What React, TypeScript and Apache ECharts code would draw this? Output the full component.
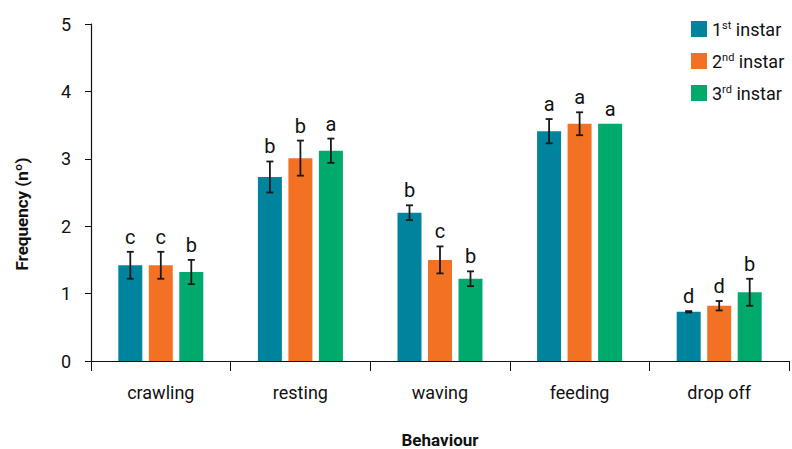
import React, { useEffect, useRef } from "react";
import * as echarts from "echarts";

const categories = ["crawling", "resting", "waving", "feeding", "drop off"];
const seriesNames = ["1st instar", "2nd instar", "3rd instar"];
const first = [1.42, 2.73, 2.2, 3.41, 0.73];
const second = [1.42, 3.01, 1.5, 3.52, 0.82];
const third = [1.32, 3.12, 1.22, 3.52, 1.02];
const err1 = [0.2, 0.23, 0.11, 0.18, 0.01];
const err2 = [0.2, 0.26, 0.2, 0.17, 0.07];
const err3 = [0.18, 0.18, 0.11, 0, 0.2];
const letters1 = ["c", "b", "b", "a", "d"];
const letters2 = ["c", "b", "c", "a", "d"];
const letters3 = ["b", "a", "b", "a", "b"];
const yTicks = [0, 1, 2, 3, 4, 5];

const colors = ["#00839C", "#F37123", "#00AA6C"];
const FONT = "Roboto";
const BAR_W = 24;
const GAP = 6.5;

export default function App() {
  const ref = useRef<HTMLDivElement>(null);
  useEffect(() => {
    if (!ref.current) return;
    const chart = echarts.init(ref.current, null, { renderer: "svg" });
    const values = [first, second, third];
    const errs = [err1, err2, err3];
    const letters = [letters1, letters2, letters3];

    const barSeries = values.map((vals, s) => ({
      name: seriesNames[s],
      type: "bar",
      data: vals,
      barWidth: BAR_W,
      barGap: (GAP / BAR_W) * 100 + "%",
      itemStyle: { color: colors[s] },
    }));

    const errSeries = values.map((vals, s) => ({
      type: "custom",
      name: "err" + s,
      z: 10,
      clip: false,
      data: categories.map((_, i) => [i, vals[i], errs[s][i]]),
      encode: { x: 0, y: 1 },
      renderItem: (params: any, api: any) => {
        const i = params.dataIndex;
        const v = api.value(1);
        const e = api.value(2);
        const off = (s - 1) * (BAR_W + GAP);
        const top = api.coord([i, v + e]);
        const bot = api.coord([i, v - e]);
        const x = top[0] + off;
        const children: any[] = [];
        if (e > 0) {
          const ls = { stroke: "#1a1a1a", lineWidth: 1.8 };
          children.push(
            { type: "line", shape: { x1: x, y1: top[1], x2: x, y2: bot[1] }, style: ls },
            { type: "line", shape: { x1: x - 3.5, y1: top[1], x2: x + 3.5, y2: top[1] }, style: ls },
            { type: "line", shape: { x1: x - 3.5, y1: bot[1], x2: x + 3.5, y2: bot[1] }, style: ls }
          );
        }
        children.push({
          type: "text",
          x: x,
          y: top[1] - 5,
          style: {
            text: letters[s][i],
            align: "center",
            verticalAlign: "bottom",
            textAlign: "center",
            textVerticalAlign: "bottom",
            fontSize: 20,
            fontFamily: FONT,
            fill: "#111",
          },
        });
        return { type: "group", children };
      },
    }));

    const option: any = {
      animation: false,
      grid: {
        left: 91,
        right: 3,
        top: 24,
        bottom: 88,
        containLabel: false,
        outerBoundsMode: "none",
      },
      legend: {
        data: seriesNames,
        orient: "vertical",
        left: 691,
        top: 20,
        padding: 0,
        itemWidth: 16,
        itemHeight: 16,
        itemGap: 14,
        icon: "rect",
        formatter: (name: string) => {
          const n = name.charAt(0);
          const sup = name.substring(1, 3);
          return n + "{s|" + sup + "} instar";
        },
        textStyle: {
          fontSize: 18,
          fontFamily: FONT,
          color: "#111",
          lineHeight: 18,
          rich: {
            s: { fontSize: 11, lineHeight: 11, verticalAlign: "top", fontFamily: FONT, color: "#111" },
          },
        },
      },
      xAxis: {
        type: "category",
        data: categories,
        name: "Behaviour",
        nameLocation: "middle",
        nameGap: 71,
        nameTextStyle: {
          fontSize: 17,
          lineHeight: 16,
          fontWeight: "bold",
          fontFamily: FONT,
          color: "#111",
        },
        axisLine: { lineStyle: { color: "#111", width: 1.2 } },
        axisTick: { show: true, length: 10, lineStyle: { color: "#111" } },
        axisLabel: { fontSize: 18, fontFamily: FONT, color: "#111", margin: 22 },
      },
      yAxis: {
        type: "value",
        min: yTicks[0],
        max: yTicks[yTicks.length - 1],
        interval: 1,
        axisLine: { show: true, lineStyle: { color: "#111", width: 1.2 } },
        axisTick: { show: true, length: 6, lineStyle: { color: "#111" } },
        splitLine: { show: false },
        axisLabel: { fontSize: 18, fontFamily: FONT, color: "#111", margin: 20 },
      },
      graphic: [
        {
          type: "text",
          x: 22,
          y: 214,
          rotation: Math.PI / 2,
          style: {
            text: "Frequency (nº)",
            align: "center",
            verticalAlign: "middle",
            textAlign: "center",
            textVerticalAlign: "middle",
            fontSize: 17,
            fontWeight: "bold",
            fontFamily: FONT,
            fill: "#111",
          },
        },
      ],
      series: [...barSeries, ...errSeries],
    };
    chart.setOption(option);
    return () => chart.dispose();
  }, []);
  return (
    <div
      ref={ref}
      style={{ position: "absolute", left: 0, top: 0, width: 792, height: 449 }}
    />
  );
}
